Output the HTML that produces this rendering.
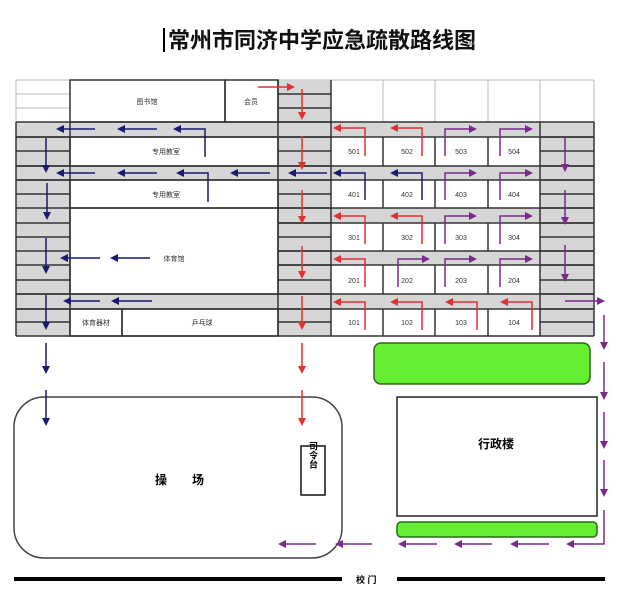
<!DOCTYPE html>
<html><head><meta charset="utf-8"><style>
html,body{margin:0;padding:0;background:#fff;width:620px;height:591px;overflow:hidden}
svg{display:block}
text{font-family:"Liberation Sans","Noto Sans CJK SC",sans-serif}
</style></head><body>
<svg width="620" height="591" viewBox="0 0 620 591" xmlns="http://www.w3.org/2000/svg">
<defs>
<marker id="r" markerWidth="8" markerHeight="8" refX="6" refY="4" orient="auto" markerUnits="userSpaceOnUse"><path d="M0,0 L8,4 L0,8 z" fill="#e03030"/></marker>
<marker id="b" markerWidth="8" markerHeight="8" refX="6" refY="4" orient="auto" markerUnits="userSpaceOnUse"><path d="M0,0 L8,4 L0,8 z" fill="#1a1a6e"/></marker>
<marker id="p" markerWidth="8" markerHeight="8" refX="6" refY="4" orient="auto" markerUnits="userSpaceOnUse"><path d="M0,0 L8,4 L0,8 z" fill="#7a2a8a"/></marker>
</defs>
<!-- title -->
<rect x="163" y="28" width="2" height="24" fill="#000"/>
<text x="168" y="48" font-size="22" font-weight="bold" fill="#111">常州市同济中学应急疏散路线图</text>
<text x="468" y="47" font-size="10" fill="#999">↵</text>

<!-- top white row -->
<g stroke="#bbb" stroke-width="1" fill="none">
<line x1="16" y1="80" x2="594" y2="80"/>
<line x1="16" y1="94" x2="70" y2="94"/><line x1="16" y1="108" x2="70" y2="108"/>
<line x1="16" y1="80" x2="16" y2="122"/>
<line x1="383" y1="80" x2="383" y2="122"/><line x1="435" y1="80" x2="435" y2="122"/>
<line x1="488" y1="80" x2="488" y2="122"/><line x1="540" y1="80" x2="540" y2="122"/><line x1="594" y1="80" x2="594" y2="122"/>
</g>
<!-- gray areas -->
<g fill="#d6d6d6">
<rect x="16" y="122" width="54" height="214"/>
<rect x="278" y="80" width="53" height="256"/>
<rect x="540" y="122" width="54" height="214"/>
<rect x="16" y="122" width="578" height="15"/>
<rect x="16" y="166" width="578" height="14"/>
<rect x="278" y="208" width="316" height="15"/>
<rect x="278" y="251" width="316" height="14"/>
<rect x="16" y="294" width="578" height="15"/>
</g>
<g stroke="#333" stroke-width="1.5" fill="none">
<!-- stripe lines in gray cols -->
<path d="M16 137H70 M16 151H70 M16 166H70 M16 180H70 M16 194H70 M16 208H70 M16 223H70 M16 237H70 M16 251H70 M16 265H70 M16 280H70 M16 294H70 M16 309H70 M16 322H70"/>
<path d="M278 94H331 M278 108H331 M278 122H331 M278 137H331 M278 151H331 M278 166H331 M278 180H331 M278 194H331 M278 208H331 M278 223H331 M278 237H331 M278 251H331 M278 265H331 M278 280H331 M278 294H331 M278 309H331 M278 322H331"/>
<path d="M540 137H594 M540 151H594 M540 166H594 M540 180H594 M540 194H594 M540 208H594 M540 223H594 M540 237H594 M540 251H594 M540 265H594 M540 280H594 M540 294H594 M540 309H594 M540 322H594"/>
<!-- band edges -->
<path d="M16 122H594 M16 137H594 M16 166H594 M16 180H594 M278 208H594 M278 223H594 M278 251H594 M278 265H594 M16 294H594 M16 309H594 M16 336H594"/>
<!-- verticals -->
<path d="M16 122V336 M594 122V336 M70 122V336 M278 80V336 M331 80V336 M540 122V336"/>
<!-- top buildings -->
<rect x="70" y="80" width="155" height="42"/>
<rect x="225" y="80" width="53" height="42"/>
<!-- buildings -->
<rect x="70" y="137" width="208" height="29"/>
<rect x="70" y="180" width="208" height="28"/>
<rect x="70" y="208" width="208" height="86"/>
<rect x="70" y="309" width="52" height="27"/>
<rect x="122" y="309" width="156" height="27"/>
<!-- rooms -->
<path d="M383 137V166 M435 137V166 M488 137V166 M383 180V208 M435 180V208 M488 180V208 M383 223V251 M435 223V251 M488 223V251 M383 265V294 M435 265V294 M488 265V294 M383 309V336 M435 309V336 M488 309V336"/>
</g>
<g font-size="7" fill="#333" text-anchor="middle">
<text x="147" y="104">图书馆</text><text x="251" y="104">会员</text>
<text x="166" y="154">专用教室</text><text x="166" y="197">专用教室</text>
<text x="174" y="261">体育馆</text>
<text x="96" y="325">体育器材</text><text x="202" y="325">乒乓球</text>
<text x="354" y="154">501</text><text x="407" y="154">502</text><text x="461" y="154">503</text><text x="514" y="154">504</text>
<text x="354" y="197">401</text><text x="407" y="197">402</text><text x="461" y="197">403</text><text x="514" y="197">404</text>
<text x="354" y="240">301</text><text x="407" y="240">302</text><text x="461" y="240">303</text><text x="514" y="240">304</text>
<text x="354" y="283">201</text><text x="407" y="283">202</text><text x="461" y="283">203</text><text x="514" y="283">204</text>
<text x="354" y="325">101</text><text x="407" y="325">102</text><text x="461" y="325">103</text><text x="514" y="325">104</text>
</g>

<!-- lower area -->
<rect x="374" y="343" width="216" height="41" rx="7" fill="#66ee33" stroke="#2a6a1a" stroke-width="1.5"/>
<rect x="397" y="397" width="200" height="119" fill="#fff" stroke="#222" stroke-width="1.5"/>
<rect x="397" y="522" width="200" height="15" rx="4" fill="#66ee33" stroke="#2a6a1a" stroke-width="1.5"/>
<rect x="14" y="397" width="328" height="161" rx="30" fill="#fff" stroke="#444" stroke-width="1.5"/>
<rect x="301" y="446" width="24" height="49" fill="#fff" stroke="#111" stroke-width="1.5"/>
<text x="313" y="455" font-size="9" font-weight="bold" text-anchor="middle" writing-mode="tb">司令台</text>
<text x="155" y="484" font-size="12" font-weight="bold">操</text>
<text x="192" y="484" font-size="12" font-weight="bold">场</text>
<text x="478" y="448" font-size="12" font-weight="bold">行政楼</text>
<rect x="14" y="577" width="328" height="4" fill="#000"/>
<rect x="397" y="577" width="208" height="4" fill="#000"/>
<text x="356" y="583" font-size="9" font-weight="bold">校 门</text>

<!-- red arrows -->
<g stroke="#e03030" stroke-width="1.5" fill="none" marker-end="url(#r)">
<line x1="258" y1="87" x2="293" y2="87"/>
<line x1="302" y1="89" x2="302" y2="118"/>
<line x1="302" y1="136" x2="302" y2="168"/>
<line x1="302" y1="190" x2="302" y2="222"/>
<line x1="302" y1="246" x2="302" y2="277"/>
<line x1="302" y1="296" x2="302" y2="328"/>
<line x1="302" y1="343" x2="302" y2="372"/>
<line x1="302" y1="390" x2="302" y2="424"/>
<polyline points="365,156 365,128 335,128"/><polyline points="422,156 422,128 392,128"/>
<polyline points="365,244 365,216 335,216"/><polyline points="422,244 422,216 392,216"/>
<polyline points="365,287 365,259 335,259"/>
<polyline points="365,330 365,302 335,302"/><polyline points="422,330 422,302 392,302"/>
<polyline points="477,330 477,302 447,302"/><polyline points="532,330 532,302 502,302"/>
</g>
<!-- blue arrows -->
<g stroke="#1a1a6e" stroke-width="1.5" fill="none" marker-end="url(#b)">
<line x1="95" y1="129" x2="58" y2="129"/><line x1="157" y1="129" x2="119" y2="129"/>
<polyline points="205,157 205,129 175,129"/>
<line x1="95" y1="173" x2="58" y2="173"/><line x1="157" y1="173" x2="119" y2="173"/>
<polyline points="208,202 208,173 178,173"/>
<line x1="270" y1="173" x2="232" y2="173"/><line x1="327" y1="173" x2="290" y2="173"/>
<polyline points="365,200 365,173 335,173"/><polyline points="422,200 422,173 392,173"/>
<line x1="100" y1="258" x2="62" y2="258"/><line x1="150" y1="258" x2="112" y2="258"/>
<line x1="100" y1="301" x2="65" y2="301"/><line x1="152" y1="301" x2="113" y2="301"/>
<line x1="46" y1="138" x2="46" y2="171"/><line x1="47" y1="183" x2="47" y2="218"/>
<line x1="46" y1="238" x2="46" y2="272"/><line x1="46" y1="295" x2="46" y2="328"/>
<line x1="46" y1="343" x2="46" y2="372"/><line x1="46" y1="390" x2="46" y2="424"/>
</g>
<!-- purple arrows -->
<g stroke="#7a2a8a" stroke-width="1.5" fill="none" marker-end="url(#p)">
<polyline points="445,156 445,129 475,129"/><polyline points="500,156 500,129 531,129"/>
<polyline points="445,200 445,173 475,173"/><polyline points="500,200 500,173 531,173"/>
<polyline points="445,244 445,216 475,216"/><polyline points="500,244 500,216 531,216"/>
<polyline points="398,287 398,259 428,259"/><polyline points="445,287 445,259 475,259"/><polyline points="500,287 500,259 531,259"/>
<line x1="565" y1="138" x2="565" y2="170"/><line x1="565" y1="190" x2="565" y2="223"/><line x1="565" y1="245" x2="565" y2="280"/>
<line x1="565" y1="301" x2="603" y2="301"/>
<line x1="604" y1="315" x2="604" y2="348"/><line x1="604" y1="362" x2="604" y2="398"/>
<line x1="604" y1="412" x2="604" y2="447"/><line x1="604" y1="460" x2="604" y2="495"/>
<polyline points="604,510 604,544 568,544"/>
<line x1="549" y1="544" x2="512" y2="544"/><line x1="492" y1="544" x2="456" y2="544"/>
<line x1="437" y1="544" x2="400" y2="544"/><line x1="372" y1="544" x2="337" y2="544"/>
<line x1="316" y1="544" x2="280" y2="544"/>
</g>
</svg>
</body></html>
